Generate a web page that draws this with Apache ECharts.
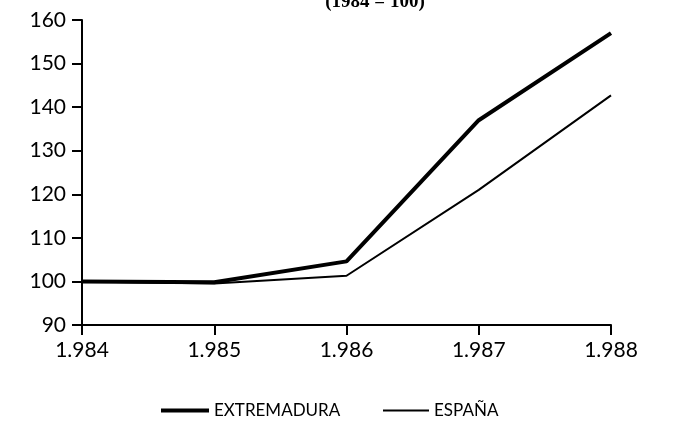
<!DOCTYPE html>
<html>
<head>
<meta charset="utf-8">
<script src="https://cdn.jsdelivr.net/npm/echarts@6/dist/echarts.min.js"></script>
<style>
html,body{margin:0;padding:0;background:#fff;}
#c{width:677px;height:428px;}
</style>
</head>
<body>
<div id="c"></div>
<script>
const years = ['1.984', '1.985', '1.986', '1.987', '1.988'];
const extremadura = [100, 99.8, 104.6, 137, 157];
const espana = [100, 99.5, 101.3, 121, 142.7];
const yTicks = [90, 100, 110, 120, 130, 140, 150, 160];

const legendText = {fontFamily: 'Lato', fontSize: 17, color: '#000'};
const chart = echarts.init(document.getElementById('c'));
chart.setOption({
  backgroundColor: '#fff',
  animation: false,
  title: {
    text: '(1984 = 100)',
    left: 370,
    top: -12,
    textAlign: 'center',
    textStyle: {fontFamily: 'Liberation Serif', fontWeight: 'bold', fontSize: 19, color: '#000'}
  },
  grid: {left: 82, right: 66, top: 20, bottom: 103, containLabel: false},
  legend: [
    {
      left: 156, top: 397, orient: 'horizontal',
      icon: 'rect', itemWidth: 48, itemHeight: 4, itemGap: 6,
      textStyle: legendText,
      data: ['EXTREMADURA']
    },
    {
      left: 378, top: 397, orient: 'horizontal',
      icon: 'rect', itemWidth: 46, itemHeight: 2, itemGap: 6,
      textStyle: legendText,
      data: ['ESPAÑA']
    }
  ],
  xAxis: {
    type: 'category',
    data: years,
    boundaryGap: false,
    axisLine: {lineStyle: {color: '#000', width: 2}},
    axisTick: {show: true, inside: false, length: 10, lineStyle: {color: '#000', width: 2}},
    axisLabel: {color: '#000', fontFamily: 'Lato', fontSize: 21, margin: 15},
    splitLine: {show: false}
  },
  yAxis: {
    type: 'value',
    min: yTicks[0],
    max: yTicks[yTicks.length - 1],
    interval: 10,
    axisLine: {show: true, lineStyle: {color: '#000', width: 2}},
    axisTick: {show: true, inside: false, length: 10, lineStyle: {color: '#000', width: 2}},
    axisLabel: {color: '#000', fontFamily: 'Lato', fontSize: 21, margin: 16},
    splitLine: {show: false}
  },
  series: [
    {
      name: 'EXTREMADURA',
      type: 'line',
      data: extremadura,
      symbol: 'none',
      lineStyle: {color: '#000', width: 4},
      itemStyle: {color: '#000'},
      z: 3
    },
    {
      name: 'ESPAÑA',
      type: 'line',
      data: espana,
      symbol: 'none',
      lineStyle: {color: '#000', width: 2},
      itemStyle: {color: '#000'},
      z: 2
    }
  ]
});
</script>
</body>
</html>
